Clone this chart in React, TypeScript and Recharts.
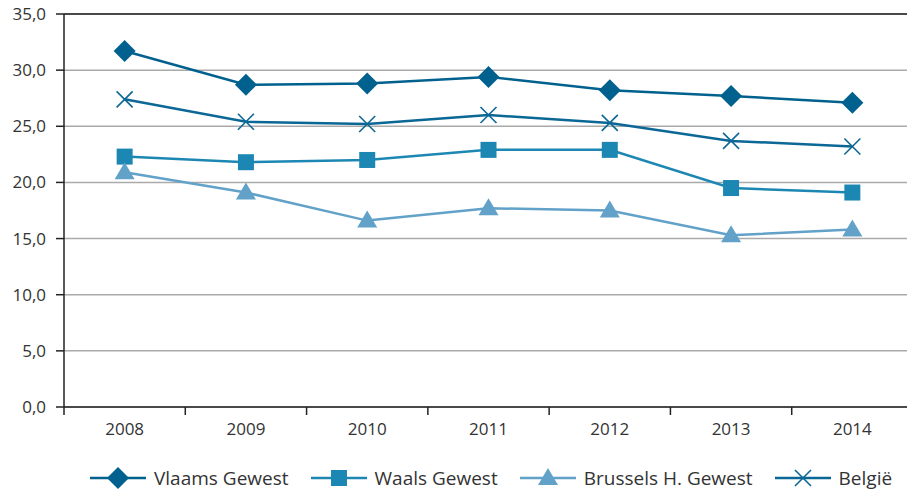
import React from "react";
import {
  CartesianGrid,
  Legend,
  Line,
  LineChart,
  ReferenceLine,
  XAxis,
  YAxis,
} from "recharts";

const years = ["2008", "2009", "2010", "2011", "2012", "2013", "2014"];
const vlaams = [31.7, 28.7, 28.8, 29.4, 28.2, 27.7, 27.1];
const waals = [22.3, 21.8, 22.0, 22.9, 22.9, 19.5, 19.1];
const brussels = [20.9, 19.1, 16.6, 17.7, 17.5, 15.3, 15.8];
const belgie = [27.4, 25.4, 25.2, 26.0, 25.3, 23.7, 23.2];

const yTicks = [0, 5, 10, 15, 20, 25, 30, 35];

const data = years.map((year, i) => ({
  idx: i,
  year,
  vlaams: vlaams[i],
  waals: waals[i],
  brussels: brussels[i],
  belgie: belgie[i],
}));

// integer ticks carry labels, half ticks mark the category edges
const xTicks: number[] = [];
for (let i = -0.5; i <= years.length - 0.5; i += 0.5) xTicks.push(i);

const FONT = "'Open Sans', sans-serif";
const TEXT = "#333";

const C_VLAAMS = "#00618f";
const C_WAALS = "#1d87b3";
const C_BRUSSELS = "#62a1c8";
const C_BELGIE = "#0b6795";

const Diamond = ({ cx, cy, fill, s = 11 }: any) => (
  <path d={`M${cx},${cy - s}L${cx + s},${cy}L${cx},${cy + s}L${cx - s},${cy}Z`} fill={fill} />
);
const Square = ({ cx, cy, fill, s = 8 }: any) => (
  <rect x={cx - s} y={cy - s} width={s * 2} height={s * 2} fill={fill} />
);
const Triangle = ({ cx, cy, fill }: any) => (
  <path d={`M${cx},${cy - 10}L${cx + 10},${cy + 7}L${cx - 10},${cy + 7}Z`} fill={fill} />
);
const Cross = ({ cx, cy, fill, s = 8 }: any) => (
  <path
    d={`M${cx - s},${cy - s}L${cx + s},${cy + s}M${cx - s},${cy + s}L${cx + s},${cy - s}`}
    stroke={fill}
    strokeWidth={1.6}
    fill="none"
  />
);

const series = [
  { key: "vlaams", name: "Vlaams Gewest", color: C_VLAAMS, Dot: Diamond },
  { key: "waals", name: "Waals Gewest", color: C_WAALS, Dot: Square },
  { key: "brussels", name: "Brussels H. Gewest", color: C_BRUSSELS, Dot: Triangle },
  { key: "belgie", name: "België", color: C_BELGIE, Dot: Cross },
];

const XTick = ({ x, y, payload }: any) => {
  const v = payload.value;
  if (Number.isInteger(v)) {
    return (
      <text x={x} y={y + 28} textAnchor="middle" fontSize={17} fill={TEXT} fontFamily={FONT}>
        {years[v]}
      </text>
    );
  }
  return <line x1={x} x2={x} y1={y} y2={y + 8} stroke="#222" strokeWidth={1.5} />;
};

const LegendContent = () => (
  <div
    style={{
      display: "flex",
      alignItems: "center",
      paddingLeft: 90,
      paddingTop: 13,
      fontFamily: FONT,
      whiteSpace: "nowrap",
      width: 907,
      boxSizing: "border-box",
    }}
  >
    {series.map((s) => (
      <div key={s.key} style={{ display: "flex", alignItems: "center", marginRight: 22, flexShrink: 0 }}>
        <svg width={56} height={24}>
          <line x1={0} x2={56} y1={12} y2={12} stroke={s.color} strokeWidth={2.5} />
          <s.Dot cx={28} cy={12} fill={s.color} />
        </svg>
        <span style={{ marginLeft: 8, fontSize: 19, color: TEXT }}>{s.name}</span>
      </div>
    ))}
  </div>
);

export default function App() {
  return (
    <div
      style={{
        position: "absolute",
        left: 0,
        top: 0,
        width: 907,
        height: 490,
        overflow: "hidden",
        background: "#fff",
      }}
    >
      <LineChart
        width={920}
        height={490}
        data={data}
        margin={{ top: 14, right: 7, left: 0, bottom: 0 }}
      >
        <CartesianGrid vertical={false} stroke="#aaa" strokeWidth={1.5} />
        <XAxis
          dataKey="idx"
          type="number"
          domain={[-0.5, years.length - 0.5]}
          ticks={xTicks}
          interval={0}
          tick={<XTick />}
          tickLine={false}
          tickSize={0}
          tickMargin={0}
          axisLine={{ stroke: "#222", strokeWidth: 1.5 }}
          height={45}
        />
        <YAxis
          domain={[0, 35]}
          ticks={yTicks}
          interval={0}
          width={64}
          tickSize={8}
          tickMargin={10}
          tickLine={{ stroke: "#222", strokeWidth: 1.5 }}
          axisLine={{ stroke: "#222", strokeWidth: 1.5 }}
          tick={{ fontSize: 17, fill: TEXT, fontFamily: FONT }}
          tickFormatter={(v: number) => v.toFixed(1).replace(".", ",")}
        />
        <ReferenceLine y={35} stroke="#222" strokeWidth={1.5} />
        <Legend
          verticalAlign="bottom"
          align="left"
          height={38}
          wrapperStyle={{ left: 0, width: 907 }}
          content={<LegendContent />}
        />
        {series.map((s) => (
          <Line
            key={s.key}
            dataKey={s.key}
            name={s.name}
            stroke={s.color}
            strokeWidth={2.5}
            isAnimationActive={false}
            dot={(p: any) => <s.Dot key={`${s.key}-${p.index}`} cx={p.cx} cy={p.cy} fill={s.color} />}
            activeDot={false}
          />
        ))}
      </LineChart>
    </div>
  );
}
